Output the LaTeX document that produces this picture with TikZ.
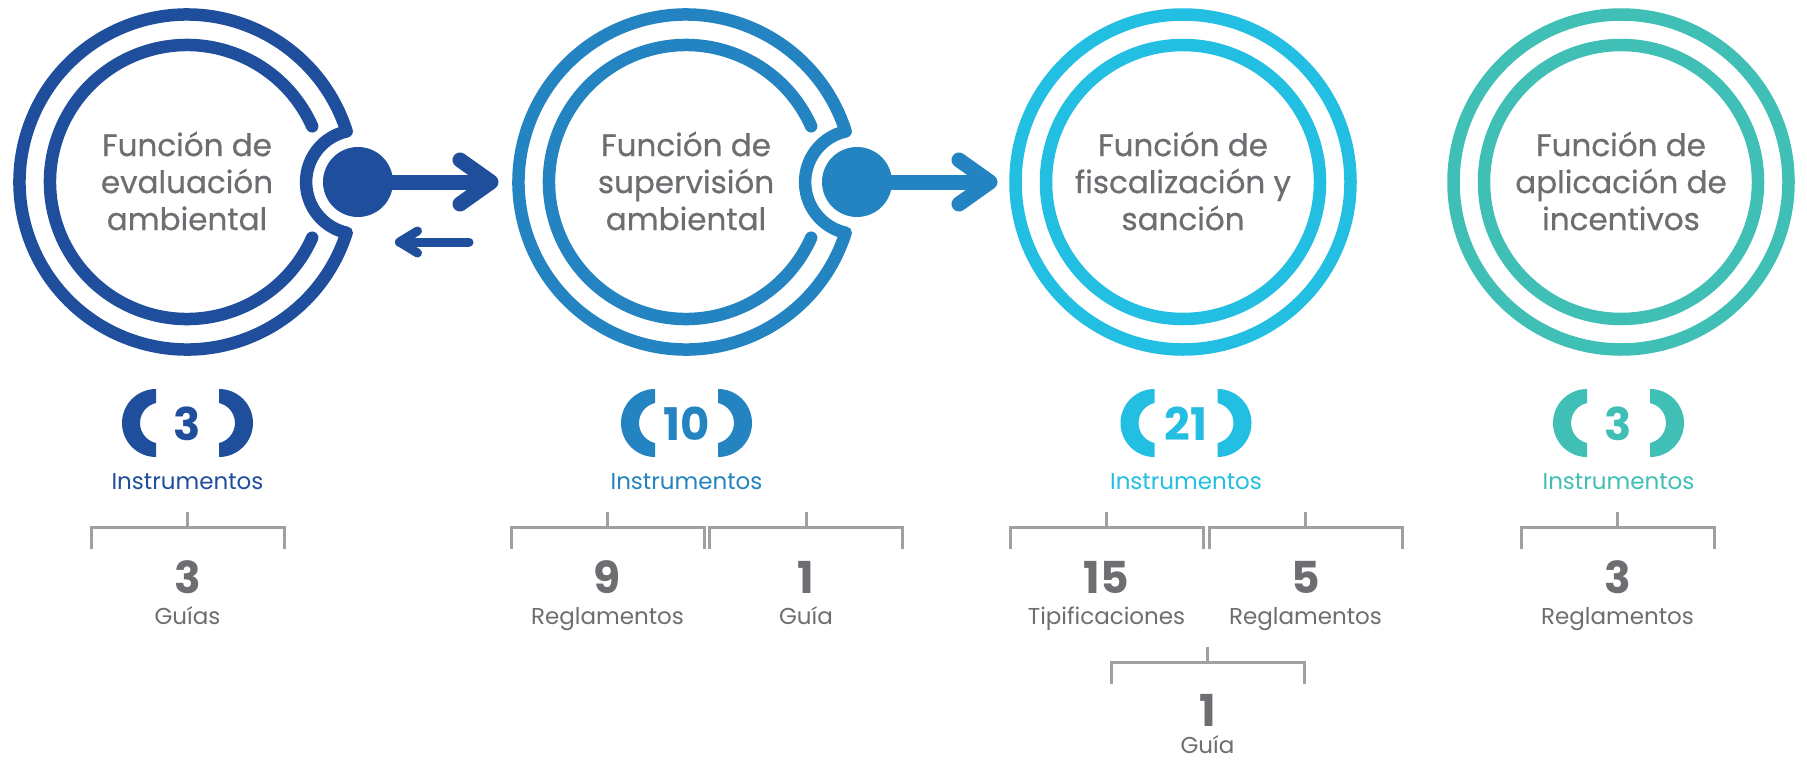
\documentclass[tikz,border=0pt]{standalone}
\usepackage{fontspec}
\setmainfont{Poppins}
\newfontfamily\medfont{Poppins}[FakeBold=0.6]
\usetikzlibrary{calc}
\definecolor{cA}{HTML}{1F4E9C}
\definecolor{cB}{HTML}{2484C1}
\definecolor{cC}{HTML}{23BFE2}
\definecolor{cD}{HTML}{3FBFB5}
\definecolor{txt}{HTML}{6D6E71}
\definecolor{brk}{HTML}{9FA0A2}
\tikzset{
  ringline/.style={line width=12.5pt},
  title/.style={text=txt, font=\medfont\fontsize{31}{37}\selectfont, align=center, inner sep=0pt},
  bluenum/.style={font=\fontsize{45}{50}\selectfont\bfseries, inner sep=0pt, anchor=base},
  instr/.style={font=\fontsize{23}{26}\selectfont, inner sep=0pt, anchor=base},
  graynum/.style={text=txt, font=\fontsize{44}{50}\selectfont\bfseries, inner sep=0pt, anchor=base},
  lab/.style={text=txt, font=\fontsize{23}{26}\selectfont, inner sep=0pt, anchor=base},
  dotnode/.style={circle, minimum size=70pt, inner sep=0pt},
  arrowln/.style={line width=15pt},
  arrowhd/.style={line width=15pt, line cap=round, line join=round},
  backln/.style={line width=9pt, line cap=round, line join=round},
  brkline/.style={draw=brk, line width=3pt},
  openring/.pic={
    \draw[ringline, line join=round] (17.6:167.5) arc[start angle=17.6, end angle=342.4, radius=167.5]
       arc[start angle=257.3, end angle=102.7, radius=52] -- cycle;
    \draw[ringline, line cap=round] (24:137) arc[start angle=24, end angle=336, radius=137];
  },
  fullring/.pic={
    \draw[ringline] (0,0) circle[radius=167.5];
    \draw[ringline] (0,0) circle[radius=137];
  },
  parens/.pic={
    \fill (-31.5,-34) arc[start angle=270, end angle=90, radius=34] -- (-31.5,20)
       arc[start angle=102.7, end angle=257.3, radius=20.5] -- cycle;
    \fill (31.5,-34) arc[start angle=-90, end angle=90, radius=34] -- (31.5,20)
       arc[start angle=77.3, end angle=-77.3, radius=20.5] -- cycle;
  },
  brace/.pic={
    \draw[brkline] (0,0) -- (0,15);
    \draw[brkline] (-96.5,37) -- (-96.5,15) -- (96.5,15) -- (96.5,37);
  }
}
\begin{document}
\begin{tikzpicture}[x=1pt,y=-1pt]
\fill[white] (0,0) rectangle (1807,761);
\useasboundingbox (0,0) rectangle (1807,761);

% rings
\pic[color=cA] at (187,182) {openring};
\pic[color=cB] at (686,182) {openring};
\pic[color=cC] at (1183,182) {fullring};
\pic[color=cD] at (1621,182) {fullring};

% titles
\node[title] (c1) at (187,181) {Función de\\evaluación\\ambiental};
\node[title] (c2) at (686,181) {Función de\\supervisión\\ambiental};
\node[title] (c3) at (1183,181) {Función de\\fiscalización y\\sanción};
\node[title] (c4) at (1621,181) {Función de\\aplicación de\\incentivos};

% dots
\node[dotnode, fill=cA] (d1) at (358,182) {};
\node[dotnode, fill=cB] (d2) at (857,182) {};

% forward arrows
\coordinate (t1) at (491,182);
\draw[arrowln, cA] (d1.center) -- (t1);
\draw[arrowhd, cA] ($(t1)+(-31,-22)$) -- (t1) -- ($(t1)+(-31,22)$);
\coordinate (t2) at (990,182);
\draw[arrowln, cB] (d2.center) -- (t2);
\draw[arrowhd, cB] ($(t2)+(-31,-22)$) -- (t2) -- ($(t2)+(-31,22)$);

% back arrow
\coordinate (bs) at (469,242);
\coordinate (bt) at (399.5,242);
\draw[backln, cA] (bs) -- (bt);
\draw[backln, cA] ($(bt)+(18,-11)$) -- (bt) -- ($(bt)+(18,11)$);

% parens and counts
\pic[color=cA] at (187.5,423) {parens};
\pic[color=cB] at (686.5,423) {parens};
\pic[color=cC] at (1186,423) {parens};
\pic[color=cD] at (1618.5,423) {parens};
\node[bluenum, text=cA] (n1) at (187.5,440) {3};
\node[bluenum, text=cB] (n2) at (686.5,440) {10};
\node[bluenum, text=cC] (n3) at (1186,440) {21};
\node[bluenum, text=cD] (n4) at (1618.5,440) {3};
\node[instr, text=cA] (i1) at (187.5,489) {Instrumentos};
\node[instr, text=cB] (i2) at (686.5,489) {Instrumentos};
\node[instr, text=cC] (i3) at (1186,489) {Instrumentos};
\node[instr, text=cD] (i4) at (1618.5,489) {Instrumentos};

% braces
\pic at (187.5,512) {brace};
\pic at (607.5,512) {brace};
\pic at (806,512) {brace};
\pic at (1106.5,512) {brace};
\pic at (1305.5,512) {brace};
\pic at (1617.5,512) {brace};
\pic at (1207.5,647) {brace};

% sub items
\node[graynum] (g1) at (187.5,593) {3};
\node[lab] (l1) at (187.5,624) {Guías};
\node[graynum] (g2) at (607.5,593) {9};
\node[lab] (l2) at (607.5,624) {Reglamentos};
\node[graynum] (g3) at (806,593) {1};
\node[lab] (l3) at (806,624) {Guía};
\node[graynum] (g4) at (1106.5,593) {15};
\node[lab] (l4) at (1106.5,624) {Tipificaciones};
\node[graynum] (g5) at (1305.5,593) {5};
\node[lab] (l5) at (1305.5,624) {Reglamentos};
\node[graynum] (g6) at (1207.5,726) {1};
\node[lab] (l6) at (1207.5,753) {Guía};
\node[graynum] (g7) at (1617.5,593) {3};
\node[lab] (l7) at (1617.5,624) {Reglamentos};
\end{tikzpicture}
\end{document}
